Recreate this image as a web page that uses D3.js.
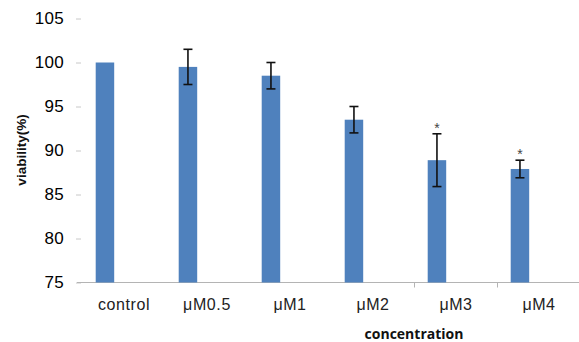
<!DOCTYPE html>
<html>
<head>
<meta charset="utf-8">
<script src="https://cdn.jsdelivr.net/npm/d3@7"></script>
<style>
  body { margin: 0; background: #fff; }
  svg { display: block; }
</style>
</head>
<body>
<div id="viz"></div>
<script>
var categories = ['control', 'μM0.5', 'μM1', 'μM2', 'μM3', 'μM4'];
var viability = [100, 99.5, 98.5, 93.5, 88.9, 87.9];
var errors = [0, 2, 1.5, 1.5, 3, 1];
var significant = [false, false, false, false, true, true];
var yTicks = [75, 80, 85, 90, 95, 100, 105];

var width = 579,
    height = 342;

var xScale = d3.scaleBand()
    .domain(categories)
    .range([82.5, 580.5]);

var yScale = d3.scaleLinear()
    .domain([75, 105])
    .range([282.5, 18.5]);

var barWidth = 18.5,
    barOffset = 13.2;

var rows = categories.map(function (c, i) {
    return { cat: c, value: viability[i], err: errors[i], sig: significant[i] };
});

function cx(d) { return xScale(d.cat) + barOffset + barWidth / 2; }

var svg = d3.select('#viz').append('svg')
    .attr('width', width)
    .attr('height', height)
    .style('font-family', 'Liberation Sans, Arial, sans-serif');

// y axis: short grey dashes and labels, no spine
var yAxis = svg.append('g')
    .attr('transform', 'translate(81,0)')
    .call(d3.axisLeft(yScale).tickValues(yTicks).tickSize(5).tickPadding(12));
yAxis.select('.domain').remove();
yAxis.selectAll('line').attr('stroke', '#c8c8c8');
yAxis.selectAll('text')
    .attr('fill', '#000')
    .style('font-size', '17px')
    .style('letter-spacing', '0.3px')
    .style('font-family', 'Liberation Sans, Arial, sans-serif');

// x axis line
svg.append('line')
    .attr('x1', 77).attr('x2', 579)
    .attr('y1', yScale(75)).attr('y2', yScale(75))
    .attr('stroke', '#b4b4b4')
    .attr('stroke-width', 1);

// only the two right boundary ticks show in the source
svg.selectAll('.xtick').data(categories.slice(4))
    .enter().append('line')
    .attr('class', 'xtick')
    .attr('x1', function (d) { return xScale(d); })
    .attr('x2', function (d) { return xScale(d); })
    .attr('y1', yScale(75))
    .attr('y2', yScale(75) + 5)
    .attr('stroke', '#b4b4b4');

svg.selectAll('.cat').data(categories)
    .enter().append('text')
    .attr('class', 'cat')
    .attr('x', function (d) { return xScale(d) + xScale.bandwidth() / 2; })
    .attr('y', 310)
    .attr('text-anchor', 'middle')
    .style('font-size', '16px')
    .style('letter-spacing', '0.6px')
    .attr('fill', '#222')
    .text(function (d) { return d; });

// bars
svg.selectAll('rect').data(rows)
    .enter().append('rect')
    .attr('fill', '#4f81bd')
    .attr('x', function (d) { return xScale(d.cat) + barOffset; })
    .attr('width', barWidth)
    .attr('y', function (d) { return yScale(d.value); })
    .attr('height', function (d) { return yScale(75) - yScale(d.value); });

// error bars
var err = svg.selectAll('.err').data(rows.filter(function (d) { return d.err > 0; }))
    .enter().append('g')
    .attr('class', 'err')
    .attr('stroke', '#111')
    .attr('stroke-width', 1.6);

err.append('line')
    .attr('x1', cx)
    .attr('x2', cx)
    .attr('y1', function (d) { return yScale(d.value + d.err); })
    .attr('y2', function (d) { return yScale(d.value - d.err); });
err.append('line')
    .attr('x1', function (d) { return cx(d) - 4.5; })
    .attr('x2', function (d) { return cx(d) + 4.5; })
    .attr('y1', function (d) { return yScale(d.value + d.err); })
    .attr('y2', function (d) { return yScale(d.value + d.err); });
err.append('line')
    .attr('x1', function (d) { return cx(d) - 4.5; })
    .attr('x2', function (d) { return cx(d) + 4.5; })
    .attr('y1', function (d) { return yScale(d.value - d.err); })
    .attr('y2', function (d) { return yScale(d.value - d.err); });

// significance stars
svg.selectAll('.star').data(rows.filter(function (d) { return d.sig; }))
    .enter().append('text')
    .attr('class', 'star')
    .attr('x', cx)
    .attr('y', function (d) { return yScale(d.value + d.err) - 1; })
    .attr('text-anchor', 'middle')
    .style('font-size', '14px')
    .attr('fill', '#444')
    .text('*');

// axis titles
svg.append('text')
    .attr('transform', 'translate(26,150) rotate(-90)')
    .attr('text-anchor', 'middle')
    .style('font-size', '13.5px')
    .style('font-weight', 'bold')
    .attr('fill', '#111')
    .text('viability(%)');

svg.append('text')
    .attr('x', 414)
    .attr('y', 339)
    .attr('text-anchor', 'middle')
    .style('font-family', 'Open Sans, sans-serif')
    .style('font-size', '14px')
    .style('font-weight', 'bold')
    .attr('fill', '#111')
    .text('concentration');
</script>
</body>
</html>
